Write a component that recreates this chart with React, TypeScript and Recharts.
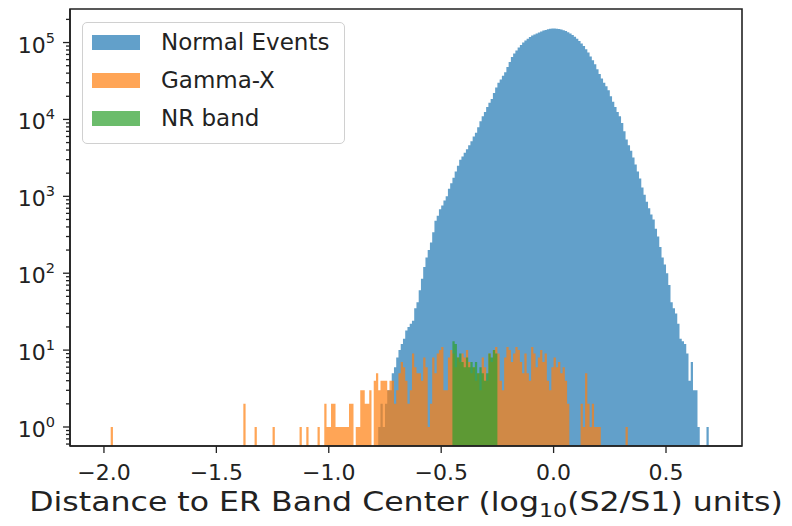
import React from "react";
import { ComposedChart, Area, XAxis, YAxis, Legend, ReferenceArea } from "recharts";

// histogram bin width (log10(S2/S1) units)
const binWidth = 0.01;

// Normal Events, consecutive bins starting at this left edge
const blueFirstEdge = -0.78;
const blueCounts = [
  1, 2, 1, 2, 3, 3, 5, 6, 8, 10,
  12, 14, 18, 20, 22, 24, 35, 42, 60, 85,
  120, 160, 200, 250, 340, 480, 560, 680, 760, 880,
  1000, 1250, 1480, 1750, 2100, 2500, 3000, 3300, 3700, 4100,
  4600, 5200, 6000, 6700, 7900, 9500, 11000, 12500, 14500, 16500,
  18500, 22000, 26000, 30000, 33000, 37000, 41000, 48000, 56000, 65000,
  72000, 79000, 86000, 93000, 100000, 106000, 112000, 118000, 123000, 127000,
  131000, 135000, 139000, 143000, 146000, 149000, 151000, 152000,
  152000, 151000, 150000, 148000, 145000, 141000, 136000, 131000, 125000, 119000,
  112000, 105000, 97000, 90000, 82000, 74000, 66000, 59000, 52000, 45000,
  39000, 34000, 30000, 27000, 24000, 20000, 17000, 14500, 12500, 11000,
  9000, 7000, 5500, 4600, 3900, 3200, 2600, 2100, 1700, 1300,
  1050, 850, 700, 580, 500, 380, 300, 220, 160, 130,
  100, 70, 42, 35, 30, 22, 14, 13, 12, 9,
  4, 7, 3, 3, 1, 0, 0, 0, 1,
];

// Gamma-X: dense part
const orangeFirstEdge = -0.8;
const orangeCounts = [
  4, 5, 3, 4, 4, 4, 3, 4, 4, 2,
  3, 5, 7, 6, 4, 2, 3, 9, 6, 5,
  5, 4, 8, 6, 1, 2, 8, 5, 9, 10,
  11, 3, 3, 8, 10, 9, 6, 8, 7, 9,
  8, 10, 7, 5, 6, 4, 5, 3, 8, 6,
  4, 9, 7, 10, 11, 9, 4, 3, 8, 11,
  10, 7, 9, 11, 10, 7, 5, 9, 5, 4,
  11, 9, 6, 8, 10, 7, 9, 4, 3, 6,
  8, 6, 7, 5, 6, 4, 2,
];
// Gamma-X: isolated bins
const orangeSparseEdges = [
  -1.97, -1.38, -1.33, -1.25, -1.13, -1.1, -1.05, -1.02, -1.01, -1.0,
  -0.99, -0.98, -0.97, -0.96, -0.95, -0.94, -0.93, -0.92, -0.91, -0.9,
  -0.88, -0.87, -0.86, -0.85, -0.84, -0.83, -0.82,
  0.12, 0.13, 0.14, 0.15, 0.16, 0.17, 0.18, 0.19, 0.2, 0.32,
];
const orangeSparseCounts = [
  1, 2, 1, 1, 1, 1, 1, 2, 1, 1,
  2, 2, 1, 1, 1, 1, 1, 1, 2, 2,
  1, 1, 3, 3, 2, 2, 3,
  2, 1, 5, 2, 1, 2, 1, 1, 1, 1,
];

// NR band
const greenFirstEdge = -0.45;
const greenCounts = [13, 12, 8, 9, 7, 6, 8, 6, 7, 6, 7, 5, 6, 5, 4, 5, 9, 8, 10, 9];

const seriesNames = ["Normal Events", "Gamma-X", "NR band"];
const seriesColors = ["#1f77b4", "#ff7f0e", "#2ca02c"];

const xTicks = [-2.0, -1.5, -1.0, -0.5, 0.0, 0.5];
const yMajorTicks = [1, 10, 100, 1000, 10000, 100000];

const xDomain: [number, number] = [-2.151, 0.838];
const yDomain: [number, number] = [0.566, 273000];

const FONT = "DejaVu Sans";
const SPINE = "#222";

// --- build the table Recharts needs (one row per bin edge) ---
const idx = (edge: number) => Math.round(edge / binWidth);
const bins: Record<string, Map<number, number>> = {
  blue: new Map(),
  orange: new Map(),
  green: new Map(),
};
blueCounts.forEach((c, i) => bins.blue.set(idx(blueFirstEdge) + i, c));
orangeCounts.forEach((c, i) => bins.orange.set(idx(orangeFirstEdge) + i, c));
orangeSparseEdges.forEach((e, i) => bins.orange.set(idx(e), orangeSparseCounts[i]));
greenCounts.forEach((c, i) => bins.green.set(idx(greenFirstEdge) + i, c));

const allIdx = Object.values(bins).flatMap((m) => Array.from(m.keys()));
const lo = Math.min(...allIdx);
const hi = Math.max(...allIdx) + 1;
const floor = yDomain[0];
const rows: any[] = [];
for (let k = lo; k <= hi; k++) {
  const row: any = { x: Math.round(k * binWidth * 1000) / 1000 };
  for (const key of Object.keys(bins)) {
    const c = bins[key].get(k) || 0;
    row[key] = c > 0 ? c : floor;
  }
  rows.push(row);
}

// major + minor ticks of the log axis
const yTicks: number[] = [];
[0.1, ...yMajorTicks].forEach((d) => {
  for (let m = 1; m <= 9; m++) {
    const v = d * m;
    if (v >= yDomain[0] && v <= yDomain[1]) yTicks.push(v);
  }
});

const renderYTick = (props: any) => {
  const { x, y, payload } = props;
  const lg = Math.log10(payload.value);
  const major = Math.abs(lg - Math.round(lg)) < 1e-6;
  return (
    <g>
      <line x1={x - (major ? 7 : 4)} x2={x} y1={y} y2={y} stroke={SPINE} strokeWidth={1.3} />
      {major && (
        <text x={x - 15} y={y + 10} textAnchor="end" fontFamily={FONT} fontSize={22} fill="#222">
          10
          <tspan dy={-10} fontSize={14.5}>
            {Math.round(lg)}
          </tspan>
        </text>
      )}
    </g>
  );
};

const renderXTick = (props: any) => {
  const { x, y, payload } = props;
  const label = payload.value.toFixed(1).replace("-", "\u2212");
  return (
    <g>
      <line x1={x} x2={x} y1={y} y2={y + 7} stroke={SPINE} strokeWidth={1.3} />
      <text x={x} y={y + 34} textAnchor="middle" fontFamily={FONT} fontSize={22} fill="#222">
        {label}
      </text>
    </g>
  );
};

const renderXLabel = (props: any) => {
  const vb = props.viewBox || { x: 70, y: 446, width: 672 };
  const cx = vb.x + vb.width / 2;
  return (
    <text
      transform={`translate(${cx},${vb.y + 65}) scale(1.17,1)`}
      textAnchor="middle"
      fontFamily={FONT}
      fontSize={27}
      fill="#222"
    >
      Distance to ER Band Center (log
      <tspan dy={6} fontSize={19}>10</tspan>
      <tspan dy={-6}>(S2/S1) units)</tspan>
    </text>
  );
};

const renderLegend = () => (
  <div
    style={{
      boxSizing: "border-box",
      width: 263,
      height: 122,
      border: "1.3px solid #d0d0d0",
      borderRadius: 5,
      background: "rgba(255,255,255,0.8)",
      fontFamily: FONT,
      fontSize: 23,
      color: "#222",
    }}
  >
    {seriesNames.map((n, i) => (
      <div key={n} style={{ display: "flex", alignItems: "center", height: 38 }}>
        <span
          style={{
            display: "inline-block",
            width: 48,
            height: 15,
            marginLeft: 9,
            marginRight: 21,
            background: seriesColors[i],
            opacity: 0.7,
          }}
        />
        <span>{n}</span>
      </div>
    ))}
  </div>
);

export default function App() {
  const keys = ["blue", "orange", "green"];
  return (
    <div style={{ position: "absolute", left: 0, top: 0, width: 792, height: 526, background: "#fff" }}>
      <ComposedChart
        width={792}
        height={526}
        data={rows}
        margin={{ top: 9, right: 50, bottom: 0, left: 0 }}
      >
        <XAxis
          dataKey="x"
          type="number"
          domain={xDomain}
          allowDataOverflow
          ticks={xTicks}
          interval={0}
          height={80}
          tickSize={0}
          tickMargin={0}
          tickLine={false}
          tick={renderXTick}
          axisLine={{ stroke: SPINE, strokeWidth: 1.6 }}
          label={renderXLabel}
        />
        <YAxis
          type="number"
          scale="log"
          domain={yDomain}
          allowDataOverflow
          ticks={yTicks}
          interval={0}
          width={70}
          tickSize={0}
          tickMargin={0}
          tickLine={false}
          tick={renderYTick}
          axisLine={{ stroke: SPINE, strokeWidth: 1.6 }}
        />
        {keys.map((k, i) => (
          <Area
            key={k}
            dataKey={k}
            name={seriesNames[i]}
            type="stepAfter"
            stroke="none"
            fill={seriesColors[i]}
            fillOpacity={0.7}
            baseValue={yDomain[0]}
            dot={false}
            activeDot={false}
            isAnimationActive={false}
          />
        ))}
        <ReferenceArea
          x1={xDomain[0]}
          x2={xDomain[1]}
          y1={yDomain[0]}
          y2={yDomain[1]}
          ifOverflow="visible"
          fill="none"
          fillOpacity={0}
          stroke={SPINE}
          strokeWidth={1.6}
        />
        <Legend
          layout="vertical"
          align="center"
          verticalAlign="middle"
          content={renderLegend}
          wrapperStyle={{ left: 82, top: 22, width: 263, height: 122 }}
        />
      </ComposedChart>
    </div>
  );
}
